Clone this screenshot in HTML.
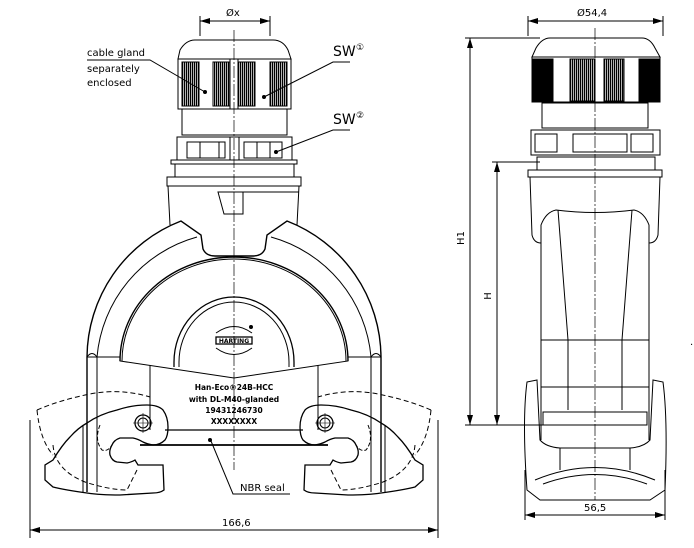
<!DOCTYPE html>
<html><head><meta charset="utf-8"><style>
html,body{margin:0;padding:0;background:#fff;width:694px;height:548px;overflow:hidden}
svg{display:block}
text{font-family:"DejaVu Sans","Liberation Sans",sans-serif;fill:#000}
</style></head><body>
<svg width="694" height="548" viewBox="0 0 694 548" xmlns="http://www.w3.org/2000/svg">
<defs>
<marker id="a" viewBox="0 0 10 6" refX="10" refY="3" markerWidth="10" markerHeight="6" orient="auto-start-reverse"><path d="M0,0L10,3L0,6z" fill="#000"/></marker>
<pattern id="kn" width="2" height="4" patternUnits="userSpaceOnUse"><rect width="1.3" height="4" fill="#000"/></pattern>
<g id="hook">
<path d="M53,460 Q62,445 70,437 Q78,428 87,423 Q100,414 117,410 Q132,405 147,405 Q158,405 163,410 Q168,417 168,427 Q168,436 165,440 Q160,445 153,445 Q147,444 143,442 Q138,439 133,438 L120,438 Q114,440 112,445 Q109,450 110,455 Q112,461 117,462 L127,463 Q132,462 135,460 L138,465 L163,465 L164,490 Q160,493 153,493 L120,495 Q100,495 87,493 Q65,490 53,487 L45,480 L45,465 Z" stroke-width="1.3"/>
<circle cx="143" cy="423" r="8" stroke-width="1.3"/><circle cx="143" cy="423" r="5"/>
<line x1="133" y1="423" x2="153" y2="423" stroke-width="0.6"/><line x1="143" y1="413" x2="143" y2="433" stroke-width="0.6"/>
<path d="M37,410 Q60,400 90,394 Q120,388 150,397" stroke-dasharray="5,3"/>
<path d="M37,410 Q40,440 53,455" stroke-dasharray="5,3"/>
<path d="M53,445 Q55,470 85,482 Q110,490 127,490 L137,470" stroke-dasharray="5,3"/>
<path d="M100,425 Q94,440 102,450 Q108,452 112,445" stroke-dasharray="4,2"/>
<line x1="83" y1="425" x2="83" y2="492"/>
</g>
</defs>
<g fill="none" stroke="#000" stroke-width="1">
<line x1="200" y1="36" x2="200" y2="16"/><line x1="270" y1="36" x2="270" y2="16"/>
<line x1="200" y1="21" x2="270" y2="21" marker-start="url(#a)" marker-end="url(#a)"/>
<path d="M178,59 L180,50 Q186,40 195,40 L273,40 Q283,40 288,50 L291,59 Z"/>
<rect x="178" y="59" width="113" height="50"/>
<rect x="182" y="62" width="17" height="44" fill="url(#kn)"/>
<rect x="213" y="62" width="17" height="44" fill="url(#kn)"/>
<rect x="238" y="62" width="17" height="44" fill="url(#kn)"/>
<rect x="270" y="62" width="17" height="44" fill="url(#kn)"/>
<line x1="230" y1="59" x2="230" y2="109"/><line x1="238" y1="59" x2="238" y2="109"/>
<rect x="182" y="109" width="105" height="26"/>
<rect x="177" y="137" width="115" height="23"/>
<rect x="187" y="142" width="38" height="16"/><line x1="200" y1="142" x2="200" y2="158"/><line x1="219" y1="142" x2="219" y2="158"/>
<rect x="244" y="142" width="38" height="16"/><line x1="257" y1="142" x2="257" y2="158"/><line x1="270" y1="142" x2="270" y2="158"/>
<line x1="230" y1="137" x2="230" y2="160"/><line x1="239" y1="137" x2="239" y2="160"/>
<rect x="171" y="160" width="126" height="4"/>
<rect x="175" y="164" width="119" height="13"/>
<rect x="167" y="177" width="134" height="9"/>
<path d="M168,186 L170,225 M299,186 L297,225"/>
<path d="M218,192 L243,192 L243,214 L224,214 Z"/><line x1="243" y1="192" x2="299" y2="192"/>
<path d="M87,492 L87,357 A147,147 0 0 1 181,221 L201,235 L203,249 Q206,256 215,256 L253,256 Q262,256 265,249 L267,235 L287,221 A147,147 0 0 1 381,357 L381,492" stroke-width="1.4"/>
<path d="M97,492 L97,357 A137,137 0 0 1 197,237 M271,237 A137,137 0 0 1 371,357 L371,492"/>
<path d="M87,357 Q92,350 97,357 M381,357 Q376,350 371,357"/>
<path d="M120,361 A114,104 0 0 1 348,361" stroke-width="1.4"/>
<path d="M122,361 A112,102 0 0 1 346,361"/>
<path d="M174,367 L174,362 A60,65 0 0 1 294,362 L294,367" stroke-width="1.3"/>
<path d="M179,367 L179,362 A55,60 0 0 1 289,362 L289,367"/>
<path d="M87,357 L120,357 L120,361 L234,378 L348,361 L348,357 L381,357"/>
<line x1="150" y1="365" x2="150" y2="430"/><line x1="318" y1="365" x2="318" y2="430"/>
<rect x="216" y="337" width="36" height="7" stroke-width="1.3"/>
<path d="M216,333 Q234,320 252,333 M216,348 Q234,361 252,348"/>
<circle cx="251" cy="327" r="1.5" fill="#000"/>
<line x1="165" y1="430" x2="303" y2="430" stroke-width="1.2"/>
<line x1="140" y1="445" x2="328" y2="445" stroke-width="1.8"/>
<use href="#hook"/>
<use href="#hook" transform="translate(468,0) scale(-1,1)"/>
<line x1="234" y1="30" x2="234" y2="470" stroke-dasharray="12,2,2,2" stroke-width="0.7"/>
<line x1="30" y1="420" x2="30" y2="538"/><line x1="438" y1="420" x2="438" y2="538"/>
<line x1="30" y1="530" x2="438" y2="530" marker-start="url(#a)" marker-end="url(#a)"/>
<path d="M87,60 L150,60 L205,92"/><circle cx="205" cy="92" r="1.5" fill="#000"/>
<path d="M350,62 L333,62 L264,97"/><circle cx="264" cy="97" r="1.5" fill="#000"/>
<path d="M350,130 L333,130 L276,152"/><circle cx="276" cy="152" r="1.5" fill="#000"/>
<path d="M290,494 L233,494 L211,441"/><circle cx="210" cy="440" r="1.5" fill="#000"/>
<line x1="528" y1="36" x2="528" y2="16"/><line x1="663" y1="36" x2="663" y2="16"/>
<line x1="528" y1="21" x2="663" y2="21" marker-start="url(#a)" marker-end="url(#a)"/>
<path d="M532,57 L536,48 Q542,38 550,38 L642,38 Q650,38 655,48 L660,57 Z"/>
<rect x="532" y="57" width="128" height="45"/>
<rect x="533" y="59" width="20" height="42" fill="#000"/>
<rect x="570" y="59" width="25" height="42" fill="url(#kn)"/>
<rect x="604" y="59" width="20" height="42" fill="url(#kn)"/>
<rect x="639" y="59" width="20" height="42" fill="#000"/>
<rect x="542" y="103" width="106" height="25"/>
<rect x="531" y="130" width="129" height="25"/>
<rect x="535" y="134" width="22" height="18"/><rect x="573" y="134" width="54" height="18"/><rect x="631" y="134" width="22" height="18"/>
<rect x="537" y="157" width="118" height="13"/>
<rect x="528" y="170" width="134" height="7"/>
<path d="M530,177 L532,235 Q534,243 541,243 L541,232 M660,177 L658,235 Q656,243 649,243 L649,232"/>
<path d="M541,232 L541,225 Q546,212 556,210 Q595,215 634,210 Q644,212 649,225 L649,440 M541,232 L541,440"/>
<path d="M558,210 L568,340 L568,410 M632,210 L622,340 L622,410"/>
<line x1="541" y1="340" x2="649" y2="340"/>
<line x1="541" y1="387" x2="649" y2="387"/>
<rect x="543" y="412" width="104" height="13"/>
<path d="M527,382 L537,380 L540,440 Q546,447 560,448 L630,448 Q644,447 650,440 L653,380 L663,382 Q668,420 665,490 L650,500 L540,500 L527,490 Q522,420 527,382 Z"/>
<path d="M535,480 Q595,455 655,480 M543,484 Q595,465 647,484"/>
<line x1="560" y1="448" x2="560" y2="470"/><line x1="630" y1="448" x2="630" y2="470"/>
<line x1="595" y1="28" x2="595" y2="500" stroke-dasharray="12,2,2,2" stroke-width="0.7"/>
<line x1="465" y1="38" x2="540" y2="38"/><line x1="465" y1="425" x2="545" y2="425"/>
<line x1="492" y1="162" x2="540" y2="162"/>
<line x1="470" y1="38" x2="470" y2="425" marker-start="url(#a)" marker-end="url(#a)"/>
<line x1="497" y1="162" x2="497" y2="425" marker-start="url(#a)" marker-end="url(#a)"/>
<line x1="525" y1="470" x2="525" y2="520"/><line x1="665" y1="470" x2="665" y2="520"/>
<line x1="525" y1="515" x2="665" y2="515" marker-start="url(#a)" marker-end="url(#a)"/>
</g>
<g font-size="10">
<text x="226" y="16">Øx</text>
<text x="87" y="56">cable gland</text>
<text x="87" y="72">separately</text>
<text x="87" y="86">enclosed</text>
<text x="333" y="56" font-size="14">SW</text><text x="356" y="50" font-size="9">①</text>
<text x="333" y="124" font-size="14">SW</text><text x="356" y="118" font-size="9">②</text>
<text x="240" y="491">NBR seal</text>
<text x="222" y="526">166,6</text>
<text x="577" y="16">Ø54,4</text>
<text x="584" y="511">56,5</text>
<text x="690" y="345">.</text>
<text transform="translate(464,238) rotate(-90)" text-anchor="middle">H1</text>
<text transform="translate(491,296) rotate(-90)" text-anchor="middle">H</text>
</g>
<g font-size="7.5" font-weight="bold" text-anchor="middle">
<text x="234" y="343" font-size="6">HARTING</text>
<text x="234" y="390">Han-Eco®24B-HCC</text>
<text x="234" y="402">with DL-M40-glanded</text>
<text x="234" y="413">19431246730</text>
<text x="234" y="424">XXXXXXXX</text>
</g>
</svg>
</body></html>
